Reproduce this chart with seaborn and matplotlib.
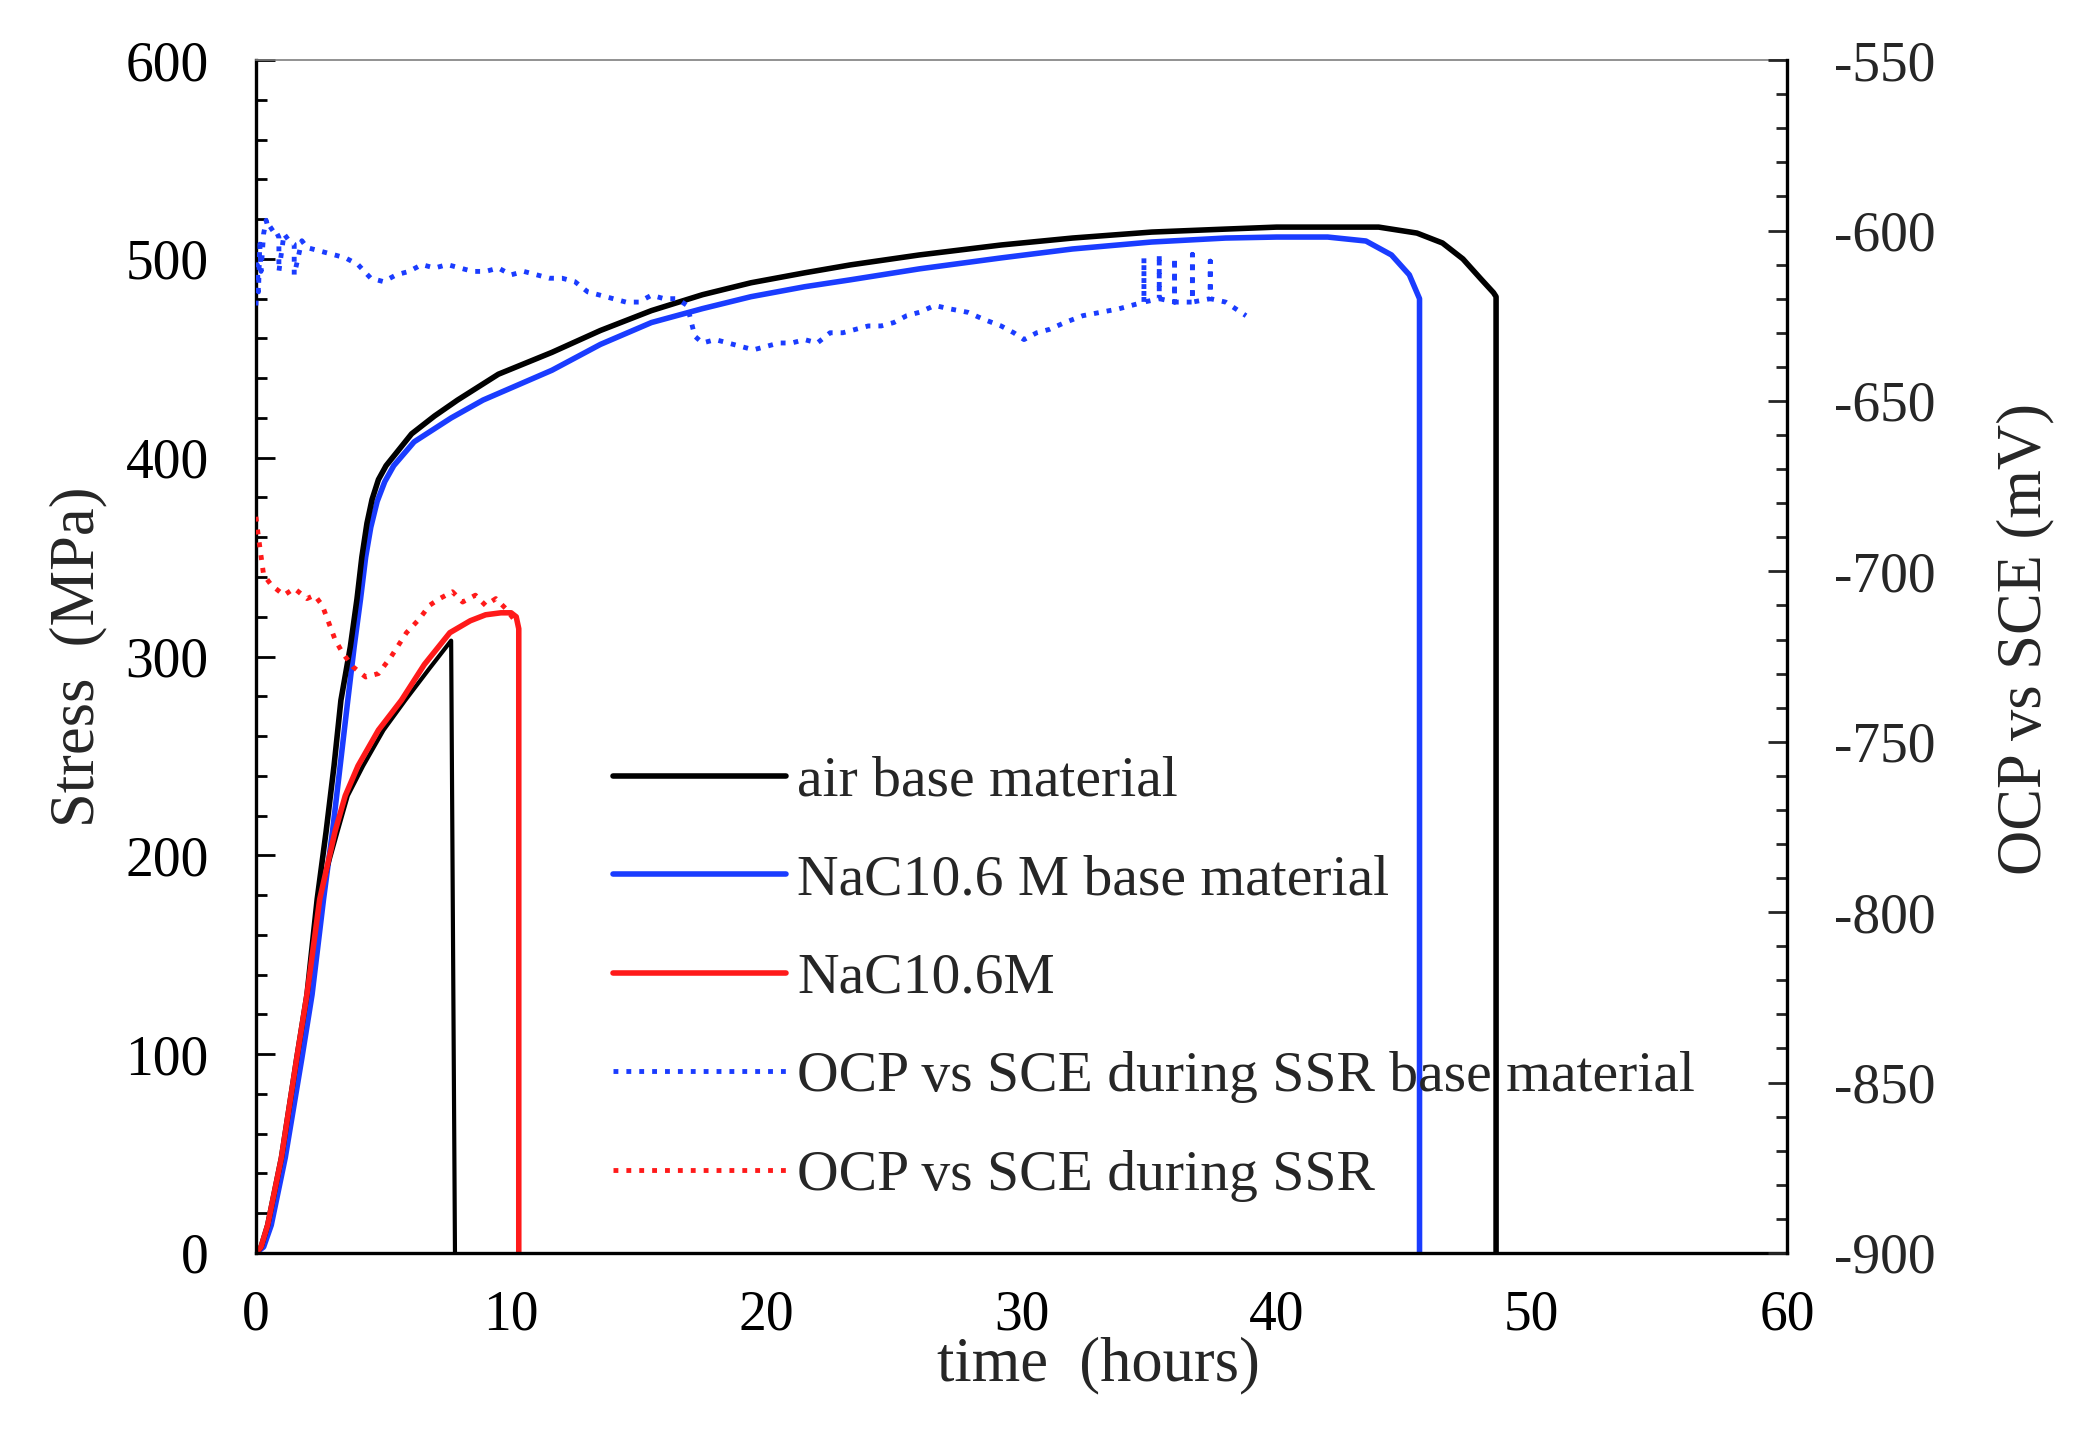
"""Stress and OCP against time for SSR tests (base material and NaCl)."""

import matplotlib
matplotlib.use("Agg")
import matplotlib.pyplot as plt
from matplotlib.ticker import MultipleLocator
import seaborn as sns

# ---------------------------------------------------------------------------
# Data
# ---------------------------------------------------------------------------
# air base material (stress, MPa)
air_t = [0, 0.2, 0.46, 1.0, 1.6, 2.0, 2.4, 2.75, 3.06, 3.33, 3.7, 3.96, 4.15,
         4.35, 4.55, 4.8, 5.1, 5.6, 6.1, 7.0, 7.9, 9.5, 11.6, 13.5, 15.5, 17.5,
         19.4, 21.5, 23.3, 26, 29.2, 32, 35.1, 38, 40, 44, 45.5, 46.5, 47.3,
         48.0, 48.5, 48.6, 48.6]
air_s = [0, 3, 14, 48, 98, 130, 178, 212, 245, 278, 305, 329, 350,
         367, 379, 389, 396, 404, 412, 421, 429, 442, 453, 464, 474, 482,
         488, 493, 497, 502, 507, 510.5, 513.5, 515, 516, 516, 513, 508, 500,
         490, 483, 481, 0]

# NaCl 0.6 M base material (stress, MPa)
nb_t = [0, 0.3, 0.6, 1.15, 1.8, 2.2, 2.65, 3.0, 3.3, 3.6, 3.85, 4.1, 4.3, 4.5,
        4.75, 5.05, 5.4, 6.2, 7.65, 8.9, 11.6, 13.5, 15.5, 17.5, 19.4, 21.5,
        23.3, 26, 29.2, 32, 35.1, 38, 40, 42, 43.5, 44.5, 45.2, 45.6, 45.6]
nb_s = [0, 3, 14, 48, 98, 130, 178, 212, 245, 278, 305, 329, 350, 365,
        378, 388, 396, 408, 420, 429, 444, 457, 468, 475, 481, 486,
        489.5, 495, 500.5, 505, 508.5, 510.5, 511, 511, 509, 502, 492, 480, 0]

# NaCl 0.6 M (stress, MPa)
na_t = [0, 0.2, 0.46, 1.0, 1.6, 2.0, 2.5, 3.1, 3.5, 4.0, 4.8, 5.7, 6.6, 7.6,
        8.4, 9.0, 9.6, 10.0, 10.2, 10.3, 10.3]
na_s = [0, 3, 14, 48, 98, 130, 178, 212, 230, 245, 263, 278, 296, 312,
        318, 321, 322, 322, 320, 314, 0]

# unlabelled black curve that breaks at 7.8 h (stress, MPa)
wb_t = [0, 0.2, 0.46, 1.0, 1.6, 2.0, 2.4, 3.2, 3.6, 4.2, 5.0, 5.85, 6.8, 7.65, 7.8]
wb_s = [0, 3, 14, 48, 98, 130, 175, 212, 230, 245, 263, 278, 294, 308, 0]

# OCP vs SCE during SSR base material (mV)
ocpb_t = [0, 0.05, 0.1, 0.15, 0.2, 0.3, 0.4, 0.5, 0.7, 0.9, 0.9, 1.1, 1.3, 1.5,
          1.5, 1.8, 2.0, 2.5, 3.0, 3.5, 4.0, 4.5, 5.0, 5.5, 6.0, 6.5, 7.0, 7.5,
          8.0, 8.5, 9.0, 9.5, 10, 10.5, 11, 11.5, 12, 12.5, 13, 13.5, 14, 14.5,
          15, 15.5, 16, 16.5, 16.9, 17.2, 17.5, 18, 18.5, 19, 19.5, 20, 20.5,
          21, 21.5, 22, 22.5, 23, 23.5, 24, 24.5, 25, 25.5, 26, 26.6, 27.2, 27.9,
          28.5, 29.2, 29.7, 30.1, 30.6, 31.1, 31.7, 32.4, 33.1, 33.8, 34.3,
          34.8, 34.8, 34.8, 35.4, 35.4, 35.4, 36.0, 36.0, 36.0, 36.7, 36.7, 36.7,
          37.4, 37.4, 37.4, 38.0, 38.4, 38.8]
ocpb = [-622, -610, -618, -604, -612, -601, -597, -600, -599, -602, -612, -601,
        -603, -604, -613, -603, -605, -606, -607, -608, -610, -614, -615, -613,
        -612, -610, -611, -610, -611, -612, -612, -611, -613, -612, -613, -614,
        -614, -615, -618, -619, -620, -621, -621, -619, -620, -620, -622, -631,
        -633, -632, -633, -634, -635, -634, -633, -633, -632, -633, -630, -630,
        -629, -628, -628, -627, -625, -624, -622, -623, -624,
        -626, -628, -630, -632, -630, -629, -627, -625, -624, -623, -622,
        -621, -608, -621, -620, -607, -620, -621, -608, -621, -621, -607, -621,
        -620, -609, -620, -621, -623, -625]

# OCP vs SCE during SSR (mV)
ocpr_t = [0, 0.1, 0.3, 0.6, 1.1, 1.5, 2.0, 2.3, 2.6, 2.9, 3.1, 3.4, 3.8, 4.3,
          4.8, 5.3, 5.9, 6.4, 6.8, 7.2, 7.7, 8.1, 8.6, 9.0, 9.4, 9.8, 10.1]
ocpr = [-684, -690, -701, -704, -707, -705, -708, -707, -710, -716, -720, -724,
        -728, -731, -730, -725, -718, -714, -710, -708, -706, -709, -707, -710,
        -708, -711, -714]

LABELS = ["air base material", "NaC10.6 M base material", "NaC10.6M",
          "OCP vs SCE during SSR base material", "OCP vs SCE during SSR"]

BLUE = "#1a3cff"
RED = "#ff1a1a"
FS = 40

# ---------------------------------------------------------------------------
# Figure
# ---------------------------------------------------------------------------
sns.set_style("white")
plt.rcParams["font.family"] = ["Liberation Serif", "DejaVu Serif"]
plt.rcParams["font.size"] = FS
plt.rcParams["axes.unicode_minus"] = False

fig = plt.figure(figsize=(20.91, 14.31), dpi=100)
ax = fig.add_axes([0.1224, 0.1244, 0.7322, 0.8336])
ax2 = ax.twinx()

common = dict(estimator=None, sort=False, legend=False)
sns.lineplot(x=nb_t, y=nb_s, ax=ax, color=BLUE, lw=4, label=LABELS[1], **common)
sns.lineplot(x=air_t, y=air_s, ax=ax, color="black", lw=4, label=LABELS[0], **common)
sns.lineplot(x=wb_t, y=wb_s, ax=ax, color="black", lw=3, **common)
sns.lineplot(x=na_t, y=na_s, ax=ax, color=RED, lw=4, label=LABELS[2], **common)

sns.lineplot(x=ocpb_t, y=ocpb, ax=ax2, color=BLUE, lw=3.5, ls=":",
             label=LABELS[3], **common)
sns.lineplot(x=ocpr_t, y=ocpr, ax=ax2, color=RED, lw=3.5, ls=":",
             label=LABELS[4], **common)

ax.set_xlim(0, 60)
ax.set_ylim(0, 600)
ax2.set_ylim(-900, -550)

ax.xaxis.set_major_locator(MultipleLocator(10))
ax.xaxis.set_minor_locator(MultipleLocator(2))
ax.yaxis.set_major_locator(MultipleLocator(100))
ax.yaxis.set_minor_locator(MultipleLocator(20))
ax2.yaxis.set_major_locator(MultipleLocator(50))
ax2.yaxis.set_minor_locator(MultipleLocator(10))

ax.tick_params(axis="both", which="both", direction="in", width=2,
               colors="black", labelsize=FS, top=False, right=False)
ax.tick_params(which="major", length=14)
ax.tick_params(which="minor", length=8)
ax.tick_params(axis="x", pad=26)
ax.tick_params(axis="y", pad=34)
ax2.tick_params(axis="y", which="both", direction="in", width=2,
                labelsize=FS, left=False, right=True, pad=34)
ax2.tick_params(which="major", length=14)
ax2.tick_params(which="minor", length=8)

for name in ["left", "bottom"]:
    ax.spines[name].set_linewidth(2.4)
    ax.spines[name].set_color("black")
ax.spines["right"].set_visible(False)
ax.spines["top"].set_color("#7f7f7f")
ax.spines["top"].set_linewidth(1.2)
for name in ["left", "bottom", "top"]:
    ax2.spines[name].set_visible(False)
ax2.spines["right"].set_linewidth(2.4)
ax2.spines["right"].set_color("black")

ax.set_xlabel("time  (hours)", fontsize=45)
ax.xaxis.set_label_coords(0.55, -0.070)
ax.set_ylabel("Stress  (MPa)", fontsize=45)
ax.yaxis.set_label_coords(-0.097, 0.50)
ax2.set_ylabel("OCP vs SCE (mV)", fontsize=45, rotation=90)
ax2.yaxis.set_label_coords(1.137, 0.515)

h1, l1 = ax.get_legend_handles_labels()
h2, l2 = ax2.get_legend_handles_labels()
by_label = dict(zip(l1 + l2, h1 + h2))
ax2.legend([by_label[k] for k in LABELS], LABELS, loc="upper left",
           bbox_to_anchor=(0.233, 0.417), frameon=False, fontsize=41.5,
           handlelength=3.0, handletextpad=0.2, labelspacing=0.8,
           borderpad=0, borderaxespad=0)

fig.savefig("out.png", dpi=100)
